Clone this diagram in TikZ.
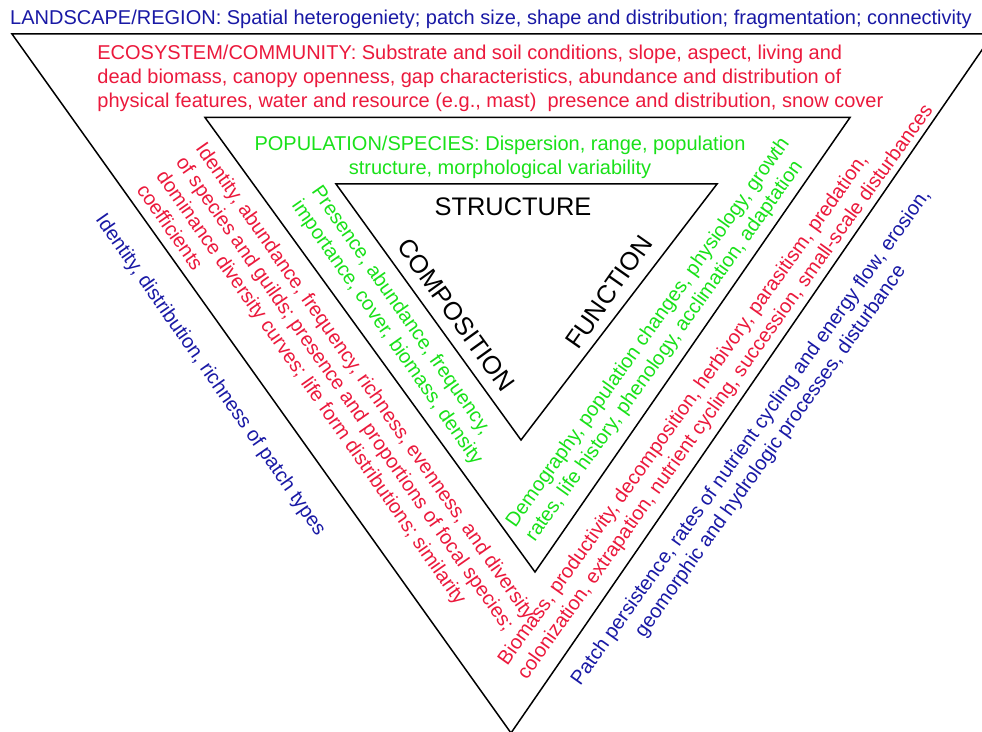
\documentclass[tikz,border=0pt]{standalone}
\usepackage{fontspec}
\setmainfont{Liberation Sans}
\definecolor{landblue}{RGB}{25,25,165}
\definecolor{ecored}{RGB}{235,25,60}
\definecolor{popgreen}{RGB}{25,225,25}

\begin{document}
\begin{tikzpicture}[x=0.5pt,y=-0.5pt,
    lbl/.style={inner sep=0pt, font=\fontsize{10}{12}\selectfont},
    core/.style={inner sep=0pt, font=\fontsize{12.7}{15}\selectfont},
    leftside/.style={rotate=-55, anchor=north west, align=left},
    rightside/.style={rotate=54.5, anchor=north west, align=left},
    tri/.style={line width=0.75pt, line join=miter}]

    \useasboundingbox (0,0) rectangle (982,732);

    % nested triangles
    \draw[tri] (12,34) -- (993,34) -- (511,733) -- cycle;
    \draw[tri] (205,117.5) -- (850,117.5) -- (535,572) -- cycle;
    \draw[tri] (336,184) -- (717,184) -- (521,440) -- cycle;

    % level headings
    \node[lbl, text=landblue] (landscape) at (491,19)
        {LANDSCAPE/REGION: Spatial heterogeniety; patch size, shape and distribution; fragmentation; connectivity};
    \node[lbl, text=ecored, anchor=north west, align=left] (ecosystem) at (97,45)
        {ECOSYSTEM/COMMUNITY: Substrate and soil conditions, slope, aspect, living and\\
         dead biomass, canopy openness, gap characteristics, abundance and distribution of\\
         physical features, water and resource (e.g., mast)~ presence and distribution, snow cover};
    \node[lbl, text=popgreen, align=center] (population) at (500,157)
        {POPULATION/SPECIES: Dispersion, range, population\\structure, morphological variability};

    % core attributes
    \node[core] (structure) at (513,207) {STRUCTURE};
    \node[core, rotate=-54.2] (composition) at (456,315) {COMPOSITION};
    \node[core, rotate=55] (function) at (609,292) {FUNCTION};

    % composition side
    \node[lbl, leftside, text=popgreen] (comppop) at (323,183)
        {Presence, abundance, frequency,\\importance, cover, biomass, density};
    \node[lbl, leftside, text=ecored] (compeco) at (207,140)
        {Identity, abundance, frequency, richness, evenness, and diversity\\
         of species and guilds; presence and proportions of focal species;\\
         dominance diversity curves; life form distributions; similarity\\
         coefficients};
    \node[lbl, leftside, text=landblue] (compland) at (107,211)
        {Identity, distribution, richness of patch types};

    % function side
    \node[lbl, rightside, text=popgreen] (funcpop) at (503,520)
        {Demography, population changes, physiology, growth\\
         rates, life history, phenology, acclimation, adaptation};
    \node[lbl, rightside, text=ecored] (funceco) at (495,658)
        {Biomass, productivity, decomposition, herbivory, parasitism, predation,\\
         colonization, extrapation, nutrient cycling, succession, small-scale disturbances};
    \node[lbl, rightside, text=landblue, align=center] (funcland) at (568,678)
        {Patch persistence, rates of nutrient cycling and energy flow, erosion,\\
         geomorphic and hydrologic processes, disturbance};

\end{tikzpicture}
\end{document}
